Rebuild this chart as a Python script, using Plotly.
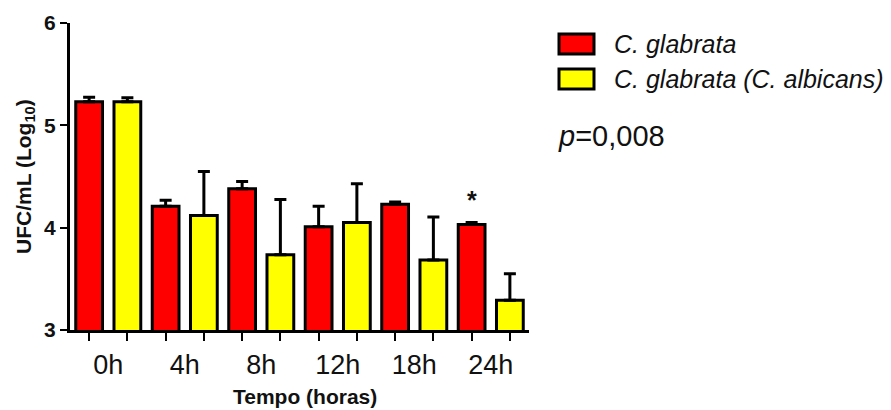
import plotly.graph_objects as go

# ---- data ----
times = ["0h", "4h", "8h", "12h", "18h", "24h"]
series_names = ["C. glabrata", "C. glabrata (C. albicans)"]
glabrata = [5.23, 4.21, 4.38, 4.01, 4.23, 4.03]
glabrata_err = [0.045, 0.058, 0.07, 0.20, 0.02, 0.02]
mixed = [5.23, 4.12, 3.735, 4.05, 3.685, 3.29]
mixed_err = [0.04, 0.43, 0.54, 0.38, 0.42, 0.26]
y_ticks = [3, 4, 5, 6]
p_text = "<i>p</i>=0,008"
star_index = 5

RED = "#ff0000"
YELLOW = "#ffff00"
FONT = "Arial, Liberation Sans, sans-serif"

n = len(times)
x_red = [2 * i for i in range(n)]
x_yel = [2 * i + 1 for i in range(n)]
x_lab = [2 * i + 0.5 for i in range(n)]

fig = go.Figure()
fig.add_trace(go.Bar(
    x=x_red, y=glabrata, width=0.7, name=series_names[0],
    marker=dict(color=RED, line=dict(color="black", width=3)),
    error_y=dict(type="data", array=glabrata_err, arrayminus=[0] * n,
                 symmetric=False, color="black", thickness=3, width=6),
    showlegend=False,
))
fig.add_trace(go.Bar(
    x=x_yel, y=mixed, width=0.7, name=series_names[1],
    marker=dict(color=YELLOW, line=dict(color="black", width=3)),
    error_y=dict(type="data", array=mixed_err, arrayminus=[0] * n,
                 symmetric=False, color="black", thickness=3, width=6),
    showlegend=False,
))

L, R, T, B = 70, 362, 23, 80
W, H = 891, 410
pw = W - L - R
ph = H - T - B


def px(xp):
    return (xp - L) / pw


def py(yp):
    return (H - B - yp) / ph


fig.update_layout(
    width=W, height=H,
    margin=dict(l=L, r=R, t=T, b=B, pad=0),
    plot_bgcolor="white", paper_bgcolor="white",
    barmode="overlay",
    font=dict(family=FONT, color="black"),
    xaxis=dict(
        range=[-0.5, 2 * n - 0.5],
        tickmode="array", tickvals=x_lab, ticktext=times,
        ticks="outside", ticklen=9, tickcolor="rgba(0,0,0,0)",
        tickfont=dict(size=27, family=FONT, color="#111"),
        showline=True, linecolor="black", linewidth=3,
        showgrid=False, zeroline=False,
        minor=dict(tick0=0, dtick=1, ticks="outside", ticklen=8,
                   tickwidth=2, tickcolor="black", showgrid=False),
    ),
    yaxis=dict(
        range=[3, 6], tickmode="array", tickvals=y_ticks,
        ticktext=["<b>%d</b>" % v for v in y_ticks],
        ticks="outside", ticklen=7, tickwidth=2, tickcolor="black",
        tickfont=dict(size=21, family=FONT, color="#111"),
        showline=True, linecolor="black", linewidth=3,
        showgrid=False, zeroline=False,
    ),
)

# axis titles
fig.add_annotation(
    text="<b>UFC/mL (Log<sub>10</sub>)</b>", textangle=-90,
    xref="paper", yref="paper", x=px(25), y=py(177),
    xanchor="center", yanchor="middle", showarrow=False,
    font=dict(size=21, family=FONT, color="#111"),
)
fig.add_annotation(
    text="<b>Tempo (horas)</b>",
    xref="paper", yref="paper", x=px(305), y=py(396),
    xanchor="center", yanchor="middle", showarrow=False,
    font=dict(size=21, family=FONT, color="#111"),
)

# significance star
fig.add_annotation(
    text="<b>*</b>", x=x_red[star_index], y=4.27,
    xref="x", yref="y", showarrow=False, yanchor="middle",
    font=dict(size=25, family=FONT, color="#111"),
)

# legend (drawn)
legend_rows = [(series_names[0], RED, 44), (series_names[1], YELLOW, 79)]
for name, col, yc in legend_rows:
    fig.add_shape(
        type="rect", xref="paper", yref="paper",
        x0=px(559), x1=px(594), y0=py(yc - 10), y1=py(yc + 10),
        fillcolor=col, line=dict(color="black", width=3),
    )
    fig.add_annotation(
        text="<i>" + name + "</i>", xref="paper", yref="paper",
        x=px(612), y=py(yc), xanchor="left", yanchor="middle",
        showarrow=False, font=dict(size=25, family=FONT, color="#111"),
    )

fig.add_annotation(
    text=p_text, xref="paper", yref="paper",
    x=px(556), y=py(136), xanchor="left", yanchor="middle",
    showarrow=False, font=dict(size=29, family=FONT, color="#111"),
)

fig.write_html("out.html")
